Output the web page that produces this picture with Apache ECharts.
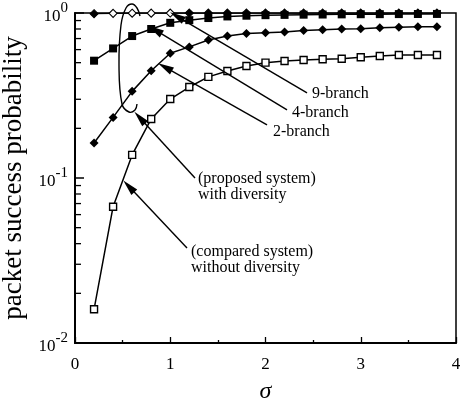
<!DOCTYPE html>
<html>
<head>
<meta charset="utf-8">
<script src="https://cdn.jsdelivr.net/npm/echarts@6/dist/echarts.min.js"></script>
<style>
    html, body { margin: 0; padding: 0; background: #fff; }
    #main { width: 465px; height: 400px; }
</style>
</head>
<body>
<div id="main"></div>
<script>
// sigma values
var sigma = [0.2, 0.4, 0.6, 0.8, 1.0, 1.2, 1.4, 1.6, 1.8, 2.0, 2.2, 2.4, 2.6, 2.8, 3.0, 3.2, 3.4, 3.6, 3.8];
// compared system, without diversity
var noDiversity = [0.016, 0.067, 0.138, 0.228, 0.301, 0.356, 0.41, 0.445, 0.477, 0.50, 0.512, 0.519, 0.524, 0.528, 0.539, 0.549, 0.557, 0.557, 0.557];
// proposed system
var branch2 = [0.163, 0.233, 0.335, 0.447, 0.57, 0.623, 0.686, 0.726, 0.75, 0.76, 0.766, 0.782, 0.792, 0.80, 0.803, 0.815, 0.82, 0.825, 0.825];
var branch4 = [0.514, 0.61, 0.725, 0.80, 0.872, 0.905, 0.932, 0.953, 0.963, 0.97, 0.974, 0.977, 0.979, 0.981, 0.983, 0.984, 0.985, 0.986, 0.987];
var branch9 = [0.99, 0.995, 0.997, 0.998, 0.999, 0.999, 0.999, 0.999, 0.999, 0.999, 0.999, 0.999, 0.999, 0.999, 0.999, 0.999, 0.999, 0.999, 0.999];

var xTicks = [0, 1, 2, 3, 4];
var yMinorTicks = [0.02, 0.03, 0.04, 0.05, 0.06, 0.07, 0.08, 0.09, 0.2, 0.3, 0.4, 0.5, 0.6, 0.7, 0.8, 0.9];

// arrows: [from, to] in data coords
var arrows = [
    [[2.436, 0.328], [1.07, 0.955]],
    [[2.226, 0.259], [0.84, 0.79]],
    [[2.016, 0.210], [0.945, 0.47]],
    [[1.260, 0.100], [0.68, 0.232]],
    [[1.176, 0.0376], [0.565, 0.089]]
];

function pairs(ys) {
    var out = [];
    for (var i = 0; i < sigma.length; i++) {
        out.push([sigma[i], ys[i]]);
    }
    return out;
}

var serifFont = '"Liberation Serif", "Times New Roman", serif';
var chart = echarts.init(document.getElementById('main'), null, {renderer: 'canvas'});

var lineStyle = {color: '#000', width: 1.5};

chart.setOption({
    animation: false,
    backgroundColor: '#fff',
    grid: {
        left: 75, right: 9, top: 13, bottom: 57,
        outerBoundsMode: 'none',
        containLabel: false,
        show: true, borderColor: '#000', borderWidth: 1.5
    },
    xAxis: {
        type: 'value',
        min: xTicks[0],
        max: xTicks[xTicks.length - 1],
        interval: 1,
        name: 'σ',
        nameLocation: 'middle',
        nameGap: 37,
        nameTextStyle: {fontFamily: serifFont, fontStyle: 'italic', fontSize: 24, color: '#000'},
        axisLine: {lineStyle: {color: '#000', width: 2}},
        axisTick: {inside: true, length: 6, lineStyle: {color: '#000', width: 1.3}},
        minorTick: {show: true, splitNumber: 2, length: 3, lineStyle: {color: '#000', width: 1.3}},
        splitLine: {show: false},
        axisLabel: {fontFamily: serifFont, fontSize: 17, color: '#000', margin: 13}
    },
    yAxis: {
        type: 'log',
        logBase: 10,
        min: 0.01,
        max: 1,
        name: 'packet success probability',
        nameLocation: 'middle',
        nameGap: 38,
        nameTextStyle: {fontFamily: serifFont, fontSize: 27, color: '#000'},
        axisLine: {lineStyle: {color: '#000', width: 2}},
        axisTick: {inside: true, length: 9, lineStyle: {color: '#000', width: 1.5}},
        splitLine: {show: false},
        axisLabel: {
            margin: 7,
            formatter: function (v) {
                var e = Math.round(Math.log10(v));
                return '{b|10}{s|' + e + '}';
            },
            rich: {
                b: {fontFamily: serifFont, fontSize: 17, color: '#000', lineHeight: 24, verticalAlign: 'bottom'},
                s: {fontFamily: serifFont, fontSize: 15, color: '#000', lineHeight: 24, verticalAlign: 'top'}
            }
        }
    },
    series: [
        {
            // minor ticks of the log axis
            name: 'minor ticks',
            type: 'custom',
            silent: true,
            clip: false,
            z: 5,
            data: yMinorTicks.map(function (v) { return [0, v]; }),
            renderItem: function (params, api) {
                var p = api.coord([api.value(0), api.value(1)]);
                return {
                    type: 'line',
                    shape: {x1: p[0], y1: p[1], x2: p[0] + 6, y2: p[1]},
                    style: {stroke: '#000', lineWidth: 1.3}
                };
            }
        },
        {
            name: 'without diversity',
            type: 'line',
            data: pairs(noDiversity),
            symbol: 'rect',
            symbolSize: 7,
            lineStyle: lineStyle,
            itemStyle: {color: '#fff', borderColor: '#000', borderWidth: 1.4},
            z: 3,
            markLine: {
                silent: true,
                symbol: ['none', 'triangle'],
                symbolSize: [8, 16],
                label: {show: false},
                lineStyle: {color: '#000', width: 1.4, type: 'solid'},
                data: arrows.map(function (a) {
                    return [{coord: a[0]}, {coord: a[1]}];
                })
            }
        },
        {
            name: '2-branch',
            type: 'line',
            data: pairs(branch2),
            symbol: 'diamond',
            symbolSize: 9,
            lineStyle: lineStyle,
            itemStyle: {color: '#000'}
        },
        {
            name: '4-branch',
            type: 'line',
            data: pairs(branch4),
            symbol: 'rect',
            symbolSize: 8,
            lineStyle: lineStyle,
            itemStyle: {color: '#000'}
        },
        {
            name: '9-branch',
            type: 'line',
            data: pairs(branch9),
            symbol: 'diamond',
            symbolSize: 8,
            lineStyle: {color: '#000', width: 1.3},
            itemStyle: {
                color: function (p) {
                    return (p.dataIndex >= 1 && p.dataIndex <= 4) ? '#fff' : '#000';
                },
                borderColor: '#000',
                borderWidth: 1.1
            }
        }
    ],
    graphic: [
        // lasso around the diversity curves
        {
            type: 'polyline',
            silent: true,
            shape: {
                points: [[137, 104], [135, 110], [129, 112], [122, 104], [119, 65], [121, 25], [126, 8], [132, 4], [137, 8], [140, 16]],
                smooth: 0.4
            },
            style: {stroke: '#000', lineWidth: 1.4, fill: null}
        },
        {type: 'text', left: 312, top: 86, style: {text: '9-branch', font: '16px ' + serifFont, fill: '#000'}},
        {type: 'text', left: 292, top: 105, style: {text: '4-branch', font: '16px ' + serifFont, fill: '#000'}},
        {type: 'text', left: 273, top: 124, style: {text: '2-branch', font: '16px ' + serifFont, fill: '#000'}},
        {type: 'text', left: 198, top: 171, style: {text: '(proposed system)\nwith diversity', font: '16px ' + serifFont, lineHeight: 16, fill: '#000'}},
        {type: 'text', left: 191, top: 244, style: {text: '(compared system)\nwithout diversity', font: '16px ' + serifFont, lineHeight: 16, fill: '#000'}}
    ]
});
</script>
</body>
</html>
